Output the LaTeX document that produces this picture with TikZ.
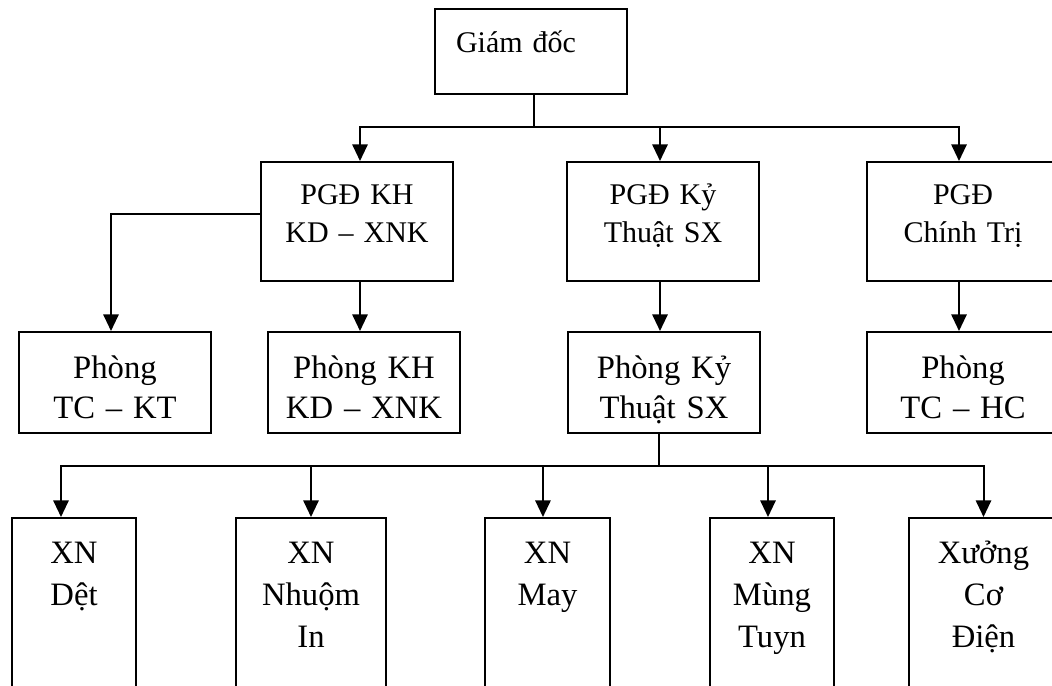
\documentclass[tikz,border=0pt]{standalone}
\usepackage{fontspec}
\setmainfont{Liberation Serif}
\usetikzlibrary{arrows.meta,calc}
\tikzset{
  unit/.style={draw,line width=1.5pt,inner xsep=0pt,inner ysep=0pt,align=center,anchor=north west},
  toprow/.style={unit,text width=144pt,font=\fontsize{22.5}{29}\selectfont,text height=31.5pt,text depth=57.75pt},
  midrow/.style={unit,text width=144pt,font=\fontsize{24.5}{30}\selectfont,text height=34.5pt,text depth=41.25pt},
  lowrow/.style={unit,text width=#1,font=\fontsize{24.5}{31.5}\selectfont,text height=33.75pt,text depth=118.5pt},
  link/.style={line width=1.5pt},
  arrow/.style={link,-{Triangle[length=12.5pt,width=11.5pt]}}
}

\begin{document}
\begin{tikzpicture}[x=0.75pt,y=-0.75pt]
  \useasboundingbox (0,0) rectangle (1052,685);
  \clip (0,0) rectangle (1052,685);

  % director
  \node[unit,inner xsep=15.75pt,text width=112.5pt,align=left,font=\fontsize{22.5}{29}\selectfont,text height=33pt,text depth=30.75pt] (gd) at (434,8) {Giám đốc};

  % deputy directors
  \node[toprow] (pkh) at (260,161) {PGĐ KH\\KD – XNK};
  \node[toprow] (pky) at (566,161) {PGĐ Kỷ\\Thuật SX};
  \node[toprow] (pct) at (866,161) {PGĐ\\Chính Trị};

  % departments
  \node[midrow] (rkt) at (18,331) {Phòng\\TC – KT};
  \node[midrow] (rkh) at (267,331) {Phòng KH\\KD – XNK};
  \node[midrow] (rky) at (567,331) {Phòng Kỷ\\Thuật SX};
  \node[midrow] (rhc) at (866,331) {Phòng\\TC – HC};

  % factories
  \node[lowrow=93pt] (xdet) at (11,517) {XN\\Dệt};
  \node[lowrow=112.5pt] (xnhuom) at (235,517) {XN\\Nhuộm\\In};
  \node[lowrow=93.75pt] (xmay) at (484,517) {XN\\May};
  \node[lowrow=93pt] (xmung) at (709,517) {XN\\Mùng\\Tuyn};
  \node[lowrow=111.75pt] (xco) at (908,517) {Xưởng\\Cơ\\Điện};

  \coordinate (b1) at (534,127);
  \coordinate (b2) at (659,466);

  \draw[link] (gd.south -| b1) -- (b1);
  \draw[arrow] (b1) -| ([xshift=2.25pt]pkh.north);
  \draw[arrow] (b1) -| ([xshift=-2.25pt]pky.north);
  \draw[arrow] (b1) -| ([xshift=-3pt]pct.north);

  \draw[arrow] ([yshift=5.6pt]pkh.west) -| ([xshift=-3pt]rkt.north);
  \draw[arrow] ([xshift=2.25pt]pkh.south) -- ([xshift=2.25pt]pkh.south |- rkh.north);
  \draw[arrow] ([xshift=-2.25pt]pky.south) -- ([xshift=-2.25pt]pky.south |- rky.north);
  \draw[arrow] ([xshift=-3pt]pct.south) -- ([xshift=-3pt]pct.south |- rhc.north);

  \draw[link] (rky.south -| b2) -- (b2);
  \draw[arrow] (b2) -| ([xshift=-9.75pt]xdet.north);
  \draw[arrow] (b2) -| (xnhuom.north);
  \draw[arrow] (b2) -| ([xshift=-3.4pt]xmay.north);
  \draw[arrow] (b2) -| ([xshift=-3pt]xmung.north);
  \draw[arrow] (b2) -| (xco.north);
\end{tikzpicture}
\end{document}
